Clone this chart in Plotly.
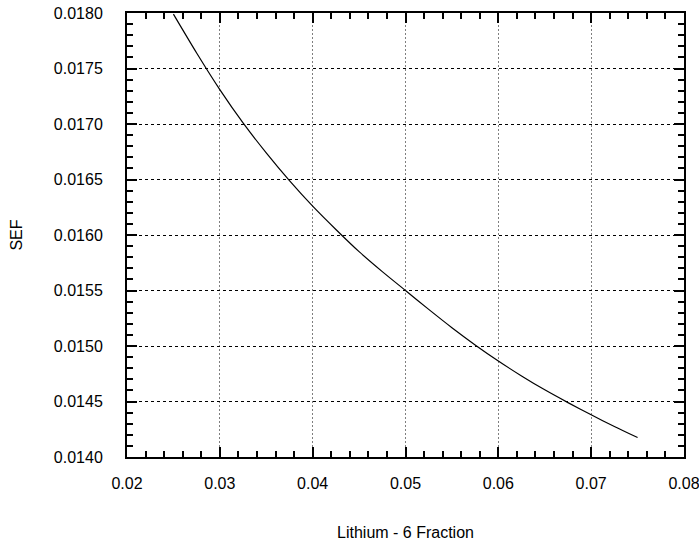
import plotly.graph_objects as go

# Lithium-6 fraction vs. SEF
li6_fraction = [0.0250, 0.0275, 0.0300, 0.0325, 0.0350, 0.0375, 0.0400, 0.0425,
                0.0450, 0.0475, 0.0500, 0.0525, 0.0550, 0.0575, 0.0600, 0.0625,
                0.0650, 0.0675, 0.0700, 0.0725, 0.0750]
sef = [0.01799, 0.01764, 0.01731, 0.01701, 0.01674, 0.01649, 0.01626, 0.01605,
       0.01585, 0.01567, 0.01550, 0.015330, 0.015165, 0.015010, 0.014865, 0.014730,
       0.014605, 0.014490, 0.014380, 0.014275, 0.014175]

x_ticks = [0.02, 0.03, 0.04, 0.05, 0.06, 0.07, 0.08]
y_ticks = [0.0140, 0.0145, 0.0150, 0.0155, 0.0160, 0.0165, 0.0170, 0.0175, 0.0180]

FONT = "Liberation Sans, Arial, sans-serif"

fig = go.Figure()
fig.add_trace(go.Scatter(
    x=li6_fraction, y=sef, mode="lines",
    line=dict(color="black", width=1.2, shape="spline", smoothing=0.8),
    showlegend=False, hoverinfo="skip",
))

common_axis = dict(
    showline=True, linecolor="black", linewidth=2, mirror="allticks",
    ticks="inside", ticklen=10, tickwidth=2, tickcolor="black",
    showgrid=True, gridwidth=1,
    zeroline=False, automargin=False, ticklabeloverflow="allow",
    tickfont=dict(family=FONT, size=16, color="black"),
)

fig.update_xaxes(
    range=[0.02, 0.08], tickvals=x_ticks,
    ticktext=[f"{v:.2f}" for v in x_ticks],
    gridcolor="#7f7f7f", griddash="2px,2px",
    minor=dict(dtick=0.002, ticks="inside", ticklen=6, tickwidth=1.5,
               tickcolor="black", showgrid=False),
    ticklabelstandoff=11,
    title=dict(text="Lithium - 6 Fraction", standoff=37,
               font=dict(family=FONT, size=16, color="black")),
    **common_axis,
)
fig.update_yaxes(
    range=[0.0140, 0.0180], tickvals=y_ticks,
    ticktext=[f"{v:.4f}" for v in y_ticks],
    gridcolor="black", griddash="3px,3px",
    minor=dict(dtick=0.0001, ticks="inside", ticklen=6, tickwidth=1.5,
               tickcolor="black", showgrid=False),
    ticklabelstandoff=19,
    title=dict(text="SEF", standoff=27,
               font=dict(family=FONT, size=16, color="black")),
    **common_axis,
)

fig.update_layout(
    width=699, height=541,
    margin=dict(l=127, r=15, t=13, b=84),
    plot_bgcolor="white", paper_bgcolor="white",
    font=dict(family=FONT, size=16, color="black"),
)

fig.write_html("out.html")
